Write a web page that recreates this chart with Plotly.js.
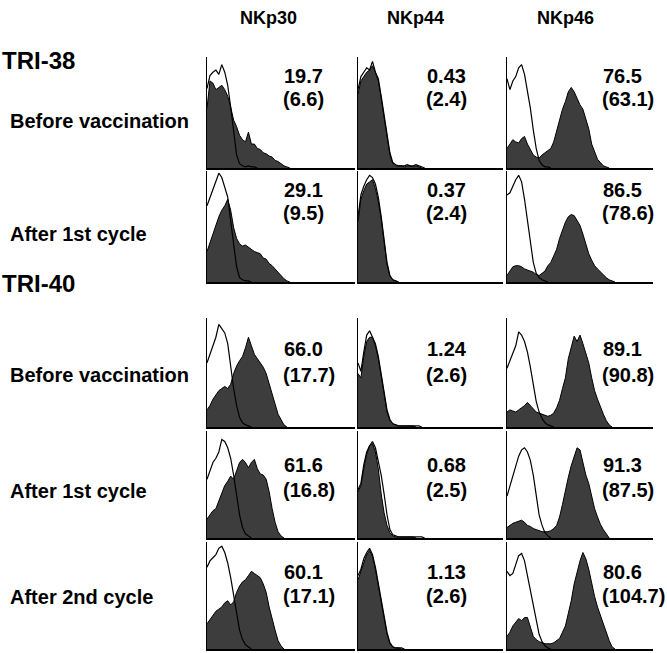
<!DOCTYPE html>
<html>
<head>
<meta charset="utf-8">
<script src="https://cdn.plot.ly/plotly-3.0.1.min.js"></script>
<style>
  body { margin: 0; background: #fff; }
  #chart { width: 667px; height: 653px; }
</style>
</head>
<body>
<div id="chart"></div>
<script>
var markers = ['NKp30', 'NKp44', 'NKp46'];
var patients = ['TRI-38', 'TRI-40'];
var stages = ['Before vaccination', 'After 1st cycle', 'Before vaccination', 'After 1st cycle', 'After 2nd cycle'];

// % positive and (MFI ratio) printed in each panel, row by row
var pctPositive = [
  ['19.7', '0.43', '76.5'],
  ['29.1', '0.37', '86.5'],
  ['66.0', '1.24', '89.1'],
  ['61.6', '0.68', '91.3'],
  ['60.1', '1.13', '80.6']
];
var mfiRatio = [
  ['6.6', '2.4', '63.1'],
  ['9.5', '2.4', '78.6'],
  ['17.7', '2.6', '90.8'],
  ['16.8', '2.5', '87.5'],
  ['17.1', '2.6', '104.7']
];

// fluorescence channel (log scale, % of axis width)
var channels = [0, 2, 4, 6, 8, 10, 12, 14, 16, 18, 20, 22, 24, 26, 28, 30, 32, 34, 36,
  38, 40, 42, 44, 46, 48, 50, 52, 54, 56, 58, 60, 62, 64, 66, 68, 70, 72, 74];

// TRI-38, before vaccination
var ctrl_a_30 = [73, 85, 88, 90, 86, 95, 88, 76, 56, 32, 12, 4, 2, 1, 2, 1, 1, 0];
var stain_a_30 = [55, 80, 78, 72, 74, 76, 72, 66, 56, 44, 38, 30, 26, 24, 33, 22, 22, 18, 17, 14, 13, 11, 10, 7, 6, 4, 2, 1, 0];
var ctrl_a_44 = [72, 84, 88, 92, 90, 98, 88, 82, 66, 48, 30, 14, 5, 3, 2, 2, 2, 3, 2, 2, 3, 2, 1, 0];
var stain_a_44 = [68, 80, 84, 88, 90, 94, 88, 80, 64, 46, 28, 12, 4, 2, 2, 2, 1, 2, 2, 1, 2, 1, 0];
var ctrl_a_46 = [82, 72, 80, 84, 92, 95, 86, 72, 55, 35, 18, 7, 3, 1, 1, 0];
var stain_a_46 = [18, 22, 26, 24, 23, 27, 29, 22, 17, 12, 10, 9, 12, 14, 16, 18, 24, 34, 45, 54, 61, 70, 74, 70, 64, 58, 54, 44, 36, 22, 14, 8, 5, 2, 1, 0];

// TRI-38, after 1st cycle
var ctrl_b_30 = [70, 78, 86, 92, 100, 96, 86, 78, 56, 35, 14, 4, 2, 1, 1, 0];
var stain_b_30 = [28, 36, 45, 54, 60, 66, 70, 76, 66, 50, 40, 35, 33, 34, 32, 30, 28, 27, 26, 22, 21, 17, 15, 12, 9, 5, 3, 1, 0];
var ctrl_b_44 = [60, 80, 88, 94, 98, 96, 90, 78, 60, 38, 18, 6, 2, 1, 0];
var stain_b_44 = [55, 76, 84, 90, 92, 94, 86, 74, 58, 36, 16, 5, 2, 1, 0];
var ctrl_b_46 = [80, 82, 88, 94, 98, 92, 76, 58, 40, 18, 8, 4, 2, 1, 0];
var stain_b_46 = [6, 10, 14, 15, 15, 14, 12, 11, 10, 9, 7, 6, 8, 10, 15, 18, 24, 30, 40, 48, 55, 60, 62, 61, 56, 52, 44, 34, 26, 20, 15, 12, 9, 6, 4, 2, 1, 0];

// TRI-40, before vaccination
var ctrl_c_30 = [60, 68, 76, 84, 96, 92, 88, 78, 56, 36, 20, 9, 4, 2, 1, 0];
var stain_c_30 = [16, 20, 26, 30, 34, 36, 38, 36, 40, 50, 57, 62, 66, 74, 84, 76, 68, 64, 60, 56, 50, 40, 30, 20, 12, 7, 2, 0];
var ctrl_c_44 = [60, 52, 70, 86, 90, 84, 78, 66, 50, 32, 16, 7, 3, 2, 1, 1, 1, 1, 1, 1, 1, 1, 0];
var stain_c_44 = [50, 46, 66, 80, 84, 84, 76, 64, 48, 30, 14, 6, 3, 2, 1, 1, 1, 1, 1, 1, 0];
var ctrl_c_46 = [55, 62, 68, 76, 89, 86, 80, 70, 56, 38, 24, 14, 8, 4, 2, 1, 0];
var stain_c_46 = [14, 16, 15, 14, 16, 18, 20, 23, 20, 16, 14, 13, 12, 11, 10, 11, 13, 18, 25, 36, 46, 64, 76, 85, 80, 86, 78, 70, 60, 46, 34, 26, 18, 12, 6, 2, 0];

// TRI-40, after 1st cycle
var ctrl_d_30 = [56, 64, 72, 76, 82, 94, 92, 86, 76, 60, 40, 22, 10, 4, 2, 0];
var stain_d_30 = [18, 22, 26, 28, 36, 44, 50, 54, 59, 56, 64, 72, 75, 72, 67, 72, 75, 66, 61, 60, 56, 44, 28, 15, 6, 2, 0];
var ctrl_d_44 = [46, 52, 70, 82, 88, 92, 86, 74, 60, 42, 22, 8, 3, 2, 1, 1, 1, 1, 1, 1, 1, 1, 1, 0];
var stain_d_44 = [44, 50, 66, 80, 88, 90, 82, 66, 42, 24, 12, 5, 2, 1, 1, 1, 1, 1, 1, 1, 0];
var ctrl_d_46 = [40, 50, 58, 68, 78, 84, 86, 82, 74, 60, 40, 22, 12, 5, 2, 0];
var stain_d_46 = [10, 12, 14, 15, 16, 17, 15, 12, 11, 9, 8, 7, 6, 6, 6, 7, 9, 12, 20, 32, 46, 58, 69, 78, 86, 84, 72, 60, 52, 40, 28, 20, 13, 8, 4, 0];

// TRI-40, after 2nd cycle
var ctrl_e_30 = [78, 84, 87, 90, 96, 98, 92, 82, 68, 50, 32, 18, 9, 4, 2, 0];
var stain_e_30 = [24, 28, 33, 36, 38, 40, 44, 46, 42, 45, 54, 60, 64, 66, 70, 74, 72, 70, 68, 62, 54, 40, 28, 18, 8, 3, 0];
var ctrl_e_44 = [70, 76, 86, 92, 96, 90, 78, 62, 46, 30, 16, 6, 2, 1, 1, 1, 0];
var stain_e_44 = [66, 74, 84, 90, 94, 88, 76, 60, 44, 28, 14, 5, 2, 1, 1, 0];
var ctrl_e_46 = [74, 70, 72, 80, 89, 91, 84, 70, 56, 40, 26, 14, 7, 3, 1, 0];
var stain_e_46 = [12, 16, 22, 26, 29, 27, 30, 30, 21, 12, 9, 7, 6, 5, 5, 5, 6, 8, 10, 16, 22, 34, 46, 62, 74, 84, 92, 86, 76, 62, 50, 40, 32, 22, 14, 8, 2, 0];

var ctrlGrid = [
  [ctrl_a_30, ctrl_a_44, ctrl_a_46],
  [ctrl_b_30, ctrl_b_44, ctrl_b_46],
  [ctrl_c_30, ctrl_c_44, ctrl_c_46],
  [ctrl_d_30, ctrl_d_44, ctrl_d_46],
  [ctrl_e_30, ctrl_e_44, ctrl_e_46]
];
var stainGrid = [
  [stain_a_30, stain_a_44, stain_a_46],
  [stain_b_30, stain_b_44, stain_b_46],
  [stain_c_30, stain_c_44, stain_c_46],
  [stain_d_30, stain_d_44, stain_d_46],
  [stain_e_30, stain_e_44, stain_e_46]
];

// panel edges in pixels
var W = 667, H = 653;
var colEdges = [[207, 355], [358, 503], [507, 653]];
var rowEdges = [[57, 168], [171, 282], [318, 427], [431, 538], [542, 649]];
var numX = [282, 425, 601];
var numY = [[76, 99], [190, 213], [349, 375], [465, 490], [572, 596]];
var stageY = [121, 234, 375, 491, 597];
var patientY = [60, 283];

function px(x) { return x / W; }
function py(y) { return 1 - y / H; }

var font = 'Liberation Sans, Arial, Helvetica, sans-serif';
var data = [];
var layout = {
  width: W,
  height: H,
  margin: {l: 0, r: 0, t: 0, b: 0},
  paper_bgcolor: '#fff',
  plot_bgcolor: 'rgba(0,0,0,0)',
  showlegend: false,
  font: {family: font, color: '#000'},
  annotations: []
};

for (var r = 0; r < 5; r++) {
  for (var c = 0; c < 3; c++) {
    var k = r * 3 + c + 1;
    var xa = 'x' + (k === 1 ? '' : k);
    var ya = 'y' + (k === 1 ? '' : k);
    var st = stainGrid[r][c];
    var ct = ctrlGrid[r][c];
    data.push({
      x: channels.slice(0, st.length), y: st,
      xaxis: xa, yaxis: ya,
      type: 'scatter', mode: 'lines',
      line: {shape: 'linear', color: '#000', width: 1},
      fill: 'tozeroy', fillcolor: '#3d3d3d',
      hoverinfo: 'skip'
    });
    data.push({
      x: channels.slice(0, ct.length), y: ct,
      xaxis: xa, yaxis: ya,
      type: 'scatter', mode: 'lines',
      line: {shape: 'linear', color: '#000', width: 1.2},
      hoverinfo: 'skip'
    });
    var axBase = {
      showline: true, linecolor: '#000', linewidth: 1.5,
      showgrid: false, zeroline: false, showticklabels: false, ticks: '',
      fixedrange: true
    };
    layout['xaxis' + (k === 1 ? '' : k)] = Object.assign({}, axBase, {
      domain: [px(colEdges[c][0]), px(colEdges[c][1])],
      range: [0, 100], anchor: ya
    });
    layout['yaxis' + (k === 1 ? '' : k)] = Object.assign({}, axBase, {
      domain: [py(rowEdges[r][1]), py(rowEdges[r][0])],
      range: [0, 102], anchor: xa
    });
    layout.annotations.push({
      xref: 'paper', yref: 'paper', x: px(numX[c]), y: py(numY[r][0]),
      xanchor: 'left', yanchor: 'middle', showarrow: false,
      text: '<b>' + pctPositive[r][c] + '</b>', font: {size: 20}
    });
    layout.annotations.push({
      xref: 'paper', yref: 'paper', x: px(numX[c] - 1), y: py(numY[r][1]),
      xanchor: 'left', yanchor: 'middle', showarrow: false,
      text: '<b>(' + mfiRatio[r][c] + ')</b>', font: {size: 20}
    });
  }
}

// column headers
var headerX = [268, 415, 565];
markers.forEach(function (m, i) {
  layout.annotations.push({
    xref: 'paper', yref: 'paper', x: px(headerX[i]), y: py(18),
    xanchor: 'center', yanchor: 'middle', showarrow: false,
    text: '<b>' + m + '</b>', font: {size: 18}
  });
});

// patient labels
patients.forEach(function (p, i) {
  layout.annotations.push({
    xref: 'paper', yref: 'paper', x: px(0), y: py(patientY[i]),
    xanchor: 'left', yanchor: 'middle', showarrow: false,
    text: '<b>' + p + '</b>', font: {size: 24}
  });
});

// stage labels
stages.forEach(function (s, i) {
  layout.annotations.push({
    xref: 'paper', yref: 'paper', x: px(8), y: py(stageY[i]),
    xanchor: 'left', yanchor: 'middle', showarrow: false,
    text: '<b>' + s + '</b>', font: {size: 20}
  });
});

Plotly.newPlot('chart', data, layout, {displayModeBar: false, staticPlot: true});
</script>
</body>
</html>
